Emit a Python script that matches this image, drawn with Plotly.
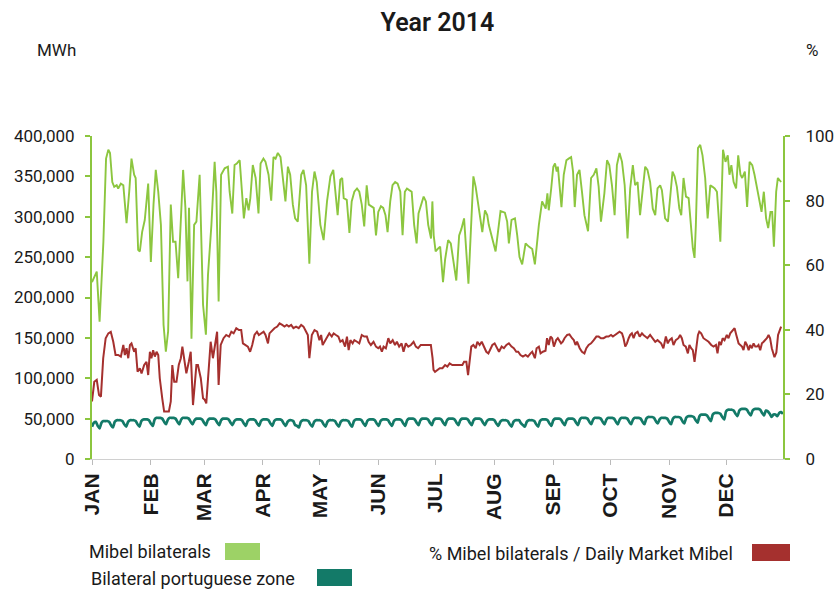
import plotly.graph_objects as go

# ---------------- data ----------------
months = ["JAN", "FEB", "MAR", "APR", "MAY", "JUN", "JUL", "AUG", "SEP", "OCT", "NOV", "DEC"]
month_start_day = [0, 31, 59, 90, 120, 151, 181, 212, 243, 273, 304, 334]

# Mibel bilaterals (MWh) : day of year (0 = 1 Jan 2014) and value
mibel_day = [0, 2.5, 4, 6, 7.4, 8.6, 9.5, 10.7, 11.7, 13, 13.8, 15.2, 16.5, 18.2, 19.6, 20.8, 22.2, 23, 24.3, 25.2,
             26.4, 27.8, 29.6, 31, 32.4, 33.6, 34.9, 36.3, 37.7, 38.9, 40.1, 41.5, 42.7, 44, 45.4, 46.6, 48, 49.2,
             50.3, 51.1, 52.4, 53.8, 55, 56.7, 58.5, 60, 61.1, 62.9, 64.6, 65.5, 66.7, 68, 69.9, 71.6, 72.5, 73.9,
             75.1, 76.3, 77.8, 79, 80, 81.3, 82.5, 83.4, 84.7, 86.2, 87.7, 88.8, 90.3, 91.4, 93, 94.4, 95.6, 96.7,
             97.9, 99.3, 100.5, 101.9, 103.2, 104.4, 105.8, 107, 108.4, 110.2, 111.4, 112.8, 114.5, 115.9, 117.2,
             118.4, 120.3, 122, 123.8, 125.6, 127.1, 128.2, 129.4, 130.8, 131.8, 132.6, 134.2, 135.6, 136.8, 138.2,
             139.6, 140.8, 142.1, 143.4, 144.7, 145.8, 147, 148.4, 149.6, 150.8, 152.2, 153.4, 154.6, 155.7, 157.1,
             158.3, 159.7, 161, 162.4, 163.6, 164.8, 165.9, 167.1, 168.4, 169.7, 171, 172, 173.3, 174.7, 175.9,
             177.1, 178.6, 179.3, 180, 181, 182.5, 183.4, 184.9, 186, 187.6, 189, 191.9, 193.4, 194.6, 196, 198.3,
             200.9, 202.1, 203.3, 205.6, 207, 208.2, 209, 212.6, 215.2, 217.5, 218.7, 219.6, 221, 222.8, 224,
             225.2, 226.6, 228.4, 230.1, 231.9, 233.3, 235.4, 237.1, 238, 239, 239.9, 240.6, 241.9, 243, 243.9,
             244.8, 245.4, 246.3, 247.3, 248.5, 249.9, 251.1, 252.4, 253.4, 254.3, 255.5, 256.8, 258.1, 259.4,
             261.3, 262.9, 264.3, 265.7, 266.9, 268.1, 269.9, 271.3, 272.5, 273.9, 275.3, 276.5, 277.9, 279.2,
             280.6, 282.1, 283.5, 284.9, 286.1, 287.4, 288.7, 290.2, 291.4, 292.6, 294, 295.4, 296.7, 297.9, 299.3,
             300.2, 301.9, 303.4, 304.6, 305.8, 306.9, 308.1, 309.4, 310.4, 311.6, 312.9, 314.3, 315.5, 316.5,
             317.4, 318.1, 319.2, 320.4, 321.6, 323, 324.3, 325.7, 326.9, 328, 329.2, 331, 332.4, 333.7, 334.9,
             335.8, 336.8, 338, 339.3, 340.4, 341.6, 342.5, 343.9, 345.1, 346.4, 347.8, 349, 350.1, 351.3, 352.7,
             353.9, 355.1, 356.2, 357.4, 358.3, 359.2, 360.4, 361.3, 363]
mibel_mwh = [219000, 232000, 170000, 269000, 372000, 383000, 379000, 343000, 337000, 339000, 335000, 341000, 339000,
             292000, 331000, 372000, 352000, 348000, 259000, 257000, 281000, 296000, 341000, 244000, 315000, 358000,
             331000, 290000, 166000, 133000, 158000, 315000, 269000, 269000, 224000, 290000, 358000, 311000, 220000,
             311000, 149000, 290000, 294000, 352000, 191000, 154000, 228000, 290000, 368000, 331000, 195000, 352000,
             360000, 362000, 331000, 304000, 364000, 366000, 370000, 331000, 298000, 323000, 308000, 323000, 364000,
             348000, 304000, 366000, 372000, 368000, 352000, 320000, 374000, 372000, 379000, 374000, 352000, 319000,
             362000, 352000, 315000, 298000, 294000, 352000, 358000, 339000, 242000, 331000, 356000, 343000, 290000,
             271000, 319000, 350000, 358000, 335000, 302000, 346000, 348000, 323000, 321000, 280000, 319000, 331000,
             335000, 331000, 315000, 288000, 339000, 315000, 313000, 311000, 277000, 306000, 313000, 311000, 302000,
             281000, 319000, 339000, 343000, 341000, 331000, 277000, 331000, 335000, 333000, 331000, 290000, 267000,
             304000, 315000, 325000, 319000, 290000, 273000, 319000, 277000, 257000, 261000, 263000, 219000, 247000,
             271000, 267000, 221000, 277000, 285000, 298000, 217000, 350000, 337000, 318000, 281000, 308000, 302000,
             290000, 257000, 307000, 305000, 294000, 267000, 296000, 298000, 277000, 250000, 241000, 267000, 263000,
             260000, 241000, 290000, 319000, 315000, 310000, 329000, 308000, 335000, 362000, 366000, 356000, 362000,
             339000, 312000, 352000, 370000, 372000, 374000, 356000, 312000, 352000, 358000, 331000, 302000, 282000,
             348000, 352000, 360000, 337000, 294000, 329000, 370000, 364000, 339000, 302000, 364000, 379000, 368000,
             339000, 273000, 335000, 364000, 339000, 343000, 302000, 339000, 362000, 358000, 343000, 310000, 302000,
             335000, 339000, 333000, 298000, 294000, 331000, 356000, 350000, 337000, 310000, 302000, 348000, 325000,
             323000, 290000, 261000, 249000, 290000, 385000, 389000, 376000, 348000, 298000, 339000, 337000, 335000,
             331000, 269000, 383000, 368000, 376000, 352000, 364000, 343000, 335000, 376000, 352000, 348000, 356000,
             312000, 368000, 364000, 352000, 339000, 327000, 306000, 331000, 298000, 286000, 306000, 306000, 263000,
             331000, 348000, 343000]

# % Mibel bilaterals / Daily Market Mibel (right axis, %)
share_day = [0, 1.2, 2.5, 3.7, 4.7, 5.9, 7.2, 8.6, 9.9, 11.2, 12.4, 13.8, 15.2, 16.5, 17.3, 18.2, 19.1, 20, 20.8,
             22.2, 23, 24, 25.2, 26.1, 27.5, 28.7, 29.6, 30.5, 31.3, 32.2, 33.1, 34, 34.9, 35.7, 37, 38, 39.2, 40.5,
             41.5, 42.3, 43.3, 44.5, 45.7, 46.8, 47.6, 48.5, 49.7, 51, 52, 53.2, 54.1, 55, 55.8, 57.3, 58.5, 59.4,
             60.2, 61.5, 62.5, 63.7, 65, 65.9, 66.7, 67.8, 69.3, 70.7, 72.2, 73.4, 74.6, 76, 77.4, 78.6, 79.5, 80.7,
             82.1, 83.3, 84.4, 85.6, 86.9, 87.9, 89.1, 90.4, 91.4, 92.7, 93.5, 94.9, 96.1, 97.6, 98.8, 100.2, 101.4,
             102.6, 103.7, 104.9, 106.1, 107.5, 108.9, 110.2, 111.4, 112.8, 113.7, 114.5, 115.8, 117.2, 118.6,
             119.8, 120.7, 121.5, 122.4, 123.8, 125, 126.3, 127.3, 128.5, 129.8, 130.8, 132, 133.3, 134.3, 135.2,
             136.1, 137.3, 138.2, 139.6, 140.8, 142.1, 143.4, 144.8, 145.7, 146.9, 148.3, 149.6, 150.8, 151.7,
             152.7, 153.6, 154.8, 156.1, 157.1, 158.4, 159.6, 160.6, 161.8, 163.1, 164.1, 165.3, 166.6, 168, 169.4,
             170.6, 171.8, 173.2, 174.6, 175.8, 177, 178.5, 179.4, 179.9, 180.7, 182, 183.2, 184.6, 186, 187.2,
             188.4, 189.8, 191.2, 192.5, 193.7, 195.1, 196, 197.2, 198.1, 199, 199.8, 200.9, 202.1, 203, 204.2,
             205.3, 206.5, 207.7, 208.8, 210, 210.9, 212.1, 213.5, 214.4, 215.8, 217, 218.3, 219.6, 221, 222.2,
             223.5, 224.5, 225.7, 227, 228.4, 229.6, 231, 231.9, 233.3, 234.2, 235.4, 236.3, 237.5, 238.9, 239.7,
             240.6, 241.5, 242.4, 243.3, 244.5, 245.4, 246.2, 247.1, 248, 248.9, 250.3, 251.5, 252.9, 253.8, 254.7,
             255.5, 256.9, 258.1, 259.4, 260.4, 261.6, 262.9, 264.3, 265.7, 266.9, 268.1, 269.5, 270.9, 272.1,
             273.4, 274.4, 275.6, 276.9, 277.9, 279.2, 280, 280.9, 281.8, 282.7, 283.5, 284.4, 285.3, 286.2, 287.4,
             288.5, 289.7, 290.5, 291.4, 292.6, 294, 295.4, 296.7, 297.9, 299.8, 301, 302.3, 303.3, 304.2, 305.4,
             306.3, 307.5, 308.9, 309.8, 310.7, 311.6, 312.8, 313.9, 314.7, 315.6, 316.5, 317.4, 318.1, 319.2,
             319.9, 320.9, 322.1, 323.4, 324.8, 326.2, 327.4, 328.7, 329.5, 330.4, 331.3, 332.2, 333.2, 334.4,
             335.3, 336.2, 337.5, 338.5, 339.4, 340.6, 341.5, 342.4, 343.2, 344.1, 345, 345.9, 346.7, 347.6, 348.5,
             349.4, 350.3, 351.1, 352, 352.9, 353.8, 354.6, 355.5, 356.4, 357.2, 358.1, 359.5, 360.5, 361.4, 363]
share_pct = [17.8, 23.9, 24.5, 19.8, 19.3, 31.2, 37.4, 38.9, 39.4, 36.3, 32.2, 32.2, 31.7, 35.3, 32.2, 34.3, 31.2,
             35.3, 35.8, 33.2, 34.3, 27.0, 28.1, 26.5, 29.1, 30.1, 26.0, 33.2, 31.2, 33.7, 31.7, 33.2, 32.2, 25.0,
             18.8, 14.7, 14.7, 14.7, 17.8, 29.1, 23.9, 23.9, 29.1, 31.2, 34.8, 31.2, 26.5, 30.1, 33.2, 16.7, 23.9,
             29.1, 29.1, 25.0, 18.8, 18.3, 17.2, 27.0, 36.3, 31.2, 36.3, 39.4, 22.9, 35.3, 37.4, 38.4, 37.9, 39.4,
             38.9, 40.5, 39.9, 39.9, 35.8, 35.3, 34.8, 33.2, 35.3, 38.4, 39.4, 38.4, 38.9, 39.4, 38.4, 35.8, 38.9,
             39.9, 40.5, 41.0, 42.0, 41.5, 41.0, 41.5, 41.0, 41.5, 40.5, 41.0, 40.5, 41.5, 41.0, 39.4, 38.4, 31.2,
             38.4, 39.9, 39.4, 36.8, 38.4, 35.3, 36.3, 37.4, 38.9, 37.9, 38.9, 38.4, 37.9, 36.3, 36.8, 34.8, 37.9,
             33.7, 36.8, 35.8, 36.8, 36.3, 35.8, 38.4, 37.9, 37.9, 36.3, 35.3, 36.3, 34.8, 34.3, 34.8, 33.2, 34.8,
             34.3, 37.4, 35.8, 36.8, 35.3, 36.3, 34.8, 35.8, 33.2, 35.8, 34.8, 35.3, 36.3, 34.8, 34.3, 35.3, 35.3,
             35.3, 35.3, 35.3, 31.2, 27.6, 27.0, 27.6, 28.1, 28.1, 29.1, 28.6, 29.6, 29.1, 29.1, 29.1, 29.1, 29.1,
             30.1, 30.1, 26.0, 31.2, 34.8, 35.3, 34.3, 36.3, 35.3, 36.3, 34.8, 33.2, 32.7, 34.3, 35.3, 35.8, 34.3,
             33.2, 34.8, 34.3, 35.3, 35.8, 34.8, 34.3, 33.2, 33.2, 32.2, 31.7, 32.2, 31.7, 32.7, 33.2, 31.2, 34.3,
             34.8, 32.7, 33.2, 33.5, 37.4, 35.3, 37.9, 37.4, 34.8, 36.8, 37.4, 36.8, 35.8, 36.3, 37.4, 38.4, 38.6,
             37.4, 36.8, 35.3, 36.3, 34.3, 33.2, 32.7, 34.3, 35.3, 35.8, 36.8, 37.9, 37.9, 37.4, 37.4, 37.9, 37.9,
             38.4, 37.9, 38.4, 38.9, 39.4, 38.9, 37.4, 34.8, 35.8, 37.4, 38.4, 38.9, 37.4, 38.9, 39.4, 37.9, 38.9,
             38.4, 37.9, 37.4, 38.4, 37.4, 36.3, 36.8, 35.8, 34.3, 37.9, 35.8, 36.8, 37.4, 35.3, 36.8, 37.4, 38.4,
             37.4, 35.3, 34.8, 32.7, 35.3, 34.3, 33.7, 30.1, 33.2, 38.4, 39.4, 38.9, 37.4, 36.8, 36.3, 35.3, 34.8,
             35.3, 32.7, 36.3, 35.3, 37.4, 36.8, 38.4, 37.4, 38.9, 39.9, 40.5, 38.4, 35.8, 35.3, 34.8, 33.7, 36.3,
             35.3, 33.7, 35.3, 34.3, 35.8, 34.8, 34.8, 35.3, 33.7, 35.8, 36.3, 36.8, 37.4, 38.4, 37.4, 34.3, 31.5,
             33.0, 38.4, 41.0]

# Bilateral portuguese zone (MWh), one value per day, 1 Jan .. 31 Dec 2014
portugal_first_days = [40000, 45000, 46000, 41000, 38000]  # Wed 1 Jan .. Sun 5 Jan
portugal_weeks = [  # Mon .. Sun
    [45000, 47000, 47000, 47000, 46000, 42000, 39000], [46000, 48000, 48000, 48000, 47000, 43000, 40000],
    [46000, 48000, 48000, 48000, 47000, 43000, 40000], [47000, 49000, 49000, 49000, 48000, 44000, 41000],
    [49000, 51000, 51000, 51000, 50000, 46000, 43000], [49000, 51000, 51000, 51000, 50000, 46000, 43000],
    [49000, 51000, 51000, 51000, 50000, 46000, 43000], [48000, 50000, 50000, 50000, 49000, 45000, 42000],
    [48000, 50000, 50000, 50000, 49000, 45000, 42000], [48000, 50000, 50000, 50000, 49000, 45000, 42000],
    [47000, 49000, 49000, 49000, 48000, 44000, 41000], [47000, 49000, 49000, 49000, 48000, 44000, 41000],
    [47000, 49000, 49000, 49000, 48000, 44000, 41000], [47000, 49000, 49000, 49000, 48000, 44000, 41000],
    [46000, 48000, 48000, 47000, 42000, 41000, 39000], [46000, 48000, 48000, 48000, 47000, 43000, 40000],
    [46000, 48000, 48000, 48000, 47000, 43000, 40000], [46000, 48000, 48000, 48000, 47000, 43000, 40000],
    [46000, 48000, 48000, 48000, 47000, 43000, 40000], [47000, 49000, 49000, 49000, 48000, 44000, 41000],
    [47000, 49000, 49000, 49000, 48000, 44000, 41000], [47000, 49000, 49000, 49000, 48000, 44000, 41000],
    [47000, 49000, 49000, 49000, 48000, 44000, 41000], [48000, 50000, 50000, 50000, 49000, 45000, 42000],
    [48000, 50000, 50000, 50000, 49000, 45000, 42000], [48000, 50000, 50000, 50000, 49000, 45000, 42000],
    [48000, 50000, 50000, 50000, 49000, 45000, 42000], [48000, 50000, 50000, 50000, 49000, 45000, 42000],
    [48000, 50000, 50000, 50000, 49000, 45000, 42000], [47000, 49000, 49000, 49000, 48000, 44000, 41000],
    [46000, 48000, 48000, 48000, 47000, 43000, 40000], [46000, 48000, 48000, 48000, 44000, 42000, 40000],
    [46000, 48000, 48000, 48000, 47000, 43000, 40000], [47000, 49000, 49000, 49000, 48000, 44000, 41000],
    [48000, 50000, 50000, 50000, 49000, 45000, 42000], [48000, 50000, 50000, 50000, 49000, 45000, 42000],
    [49000, 51000, 51000, 51000, 50000, 46000, 43000], [49000, 51000, 51000, 51000, 50000, 46000, 43000],
    [49000, 51000, 51000, 51000, 50000, 46000, 43000], [49000, 51000, 51000, 51000, 50000, 46000, 43000],
    [49000, 51000, 51000, 51000, 50000, 46000, 43000], [50000, 52000, 52000, 52000, 51000, 47000, 44000],
    [49000, 51000, 51000, 51000, 50000, 46000, 43000], [50000, 52000, 52000, 52000, 51000, 47000, 44000],
    [51000, 53000, 53000, 53000, 52000, 48000, 45000], [53000, 55000, 55000, 55000, 54000, 50000, 47000],
    [55000, 57000, 57000, 57000, 56000, 52000, 49000], [59000, 61000, 61000, 61000, 60000, 56000, 53000],
    [60000, 62000, 62000, 62000, 61000, 57000, 54000], [60000, 62000, 62000, 62000, 61000, 57000, 54000],
    [60000, 59000, 56000, 52000, 55000, 55000, 53000],
]
portugal_last_days = [57000, 58000, 56000]  # Mon 29 .. Wed 31 Dec

# ---------------- styling ----------------
GREEN = "#8cc63f"
GREEN_LEG = "#9dd266"
RED = "#a5302e"
TEAL = "#137a68"
TXT = "#1a1a1a"
FONT = "Roboto, Open Sans, sans-serif"

portugal_mwh = portugal_first_days + [v for wk in portugal_weeks for v in wk] + portugal_last_days
portugal_day = list(range(len(portugal_mwh)))

fig = go.Figure()
fig.add_trace(go.Scatter(x=mibel_day, y=mibel_mwh, mode="lines", name="Mibel bilaterals",
                         line=dict(color=GREEN, width=1.9), showlegend=False))
fig.add_trace(go.Scatter(x=portugal_day, y=portugal_mwh, mode="lines", name="Bilateral portuguese zone",
                         line=dict(color=TEAL, width=2.7, shape="spline", smoothing=0.6), showlegend=False))
fig.add_trace(go.Scatter(x=share_day, y=share_pct, mode="lines", yaxis="y2",
                         name="% Mibel bilaterals / Daily Market Mibel",
                         line=dict(color=RED, width=2.0), showlegend=False))

FIG_W, FIG_H = 835, 589
# plot area in page pixels: x 92..783, y 136..459
L, R, T, B = 92, 783, 136, 459
W, H = R - L, B - T


def px(xp):
    return (xp - L) / W


def py(yp):
    return (B - yp) / H


def label(text, x, y, xanchor="left", size=18):
    return dict(text=text, x=px(x), y=py(y), xref="paper", yref="paper", showarrow=False,
                xanchor=xanchor, yanchor="middle", font=dict(family=FONT, size=size, color=TXT))


annotations = [
    label("MWh", 56, 50, "center", 17),
    label("%", 812, 50, "center", 17),
    label("Mibel bilaterals", 87, 551),
    label("Bilateral portuguese zone", 89, 578),
    label("% Mibel bilaterals / Daily Market Mibel", 427, 553),
]
shapes = [
    dict(type="rect", xref="paper", yref="paper", x0=px(225), x1=px(260), y0=py(560), y1=py(543),
         fillcolor=GREEN_LEG, line=dict(width=0)),
    dict(type="rect", xref="paper", yref="paper", x0=px(317), x1=px(352), y0=py(586), y1=py(569),
         fillcolor=TEAL, line=dict(width=0)),
    dict(type="rect", xref="paper", yref="paper", x0=px(752), x1=px(790), y0=py(561), y1=py(544),
         fillcolor=RED, line=dict(width=0)),
]

fig.update_layout(
    width=FIG_W, height=FIG_H,
    margin=dict(l=L, r=FIG_W - R, t=T, b=FIG_H - B),
    paper_bgcolor="white", plot_bgcolor="white",
    title=dict(text="Year 2014", x=0.5, xref="paper", xanchor="center", y=1 - 22 / FIG_H,
               yref="container", yanchor="middle",
               font=dict(family=FONT, size=25, color=TXT, weight=600)),
    xaxis=dict(range=[0, 364], tickvals=month_start_day, ticktext=months, tickangle=-90,
               ticks="outside", ticklen=5, tickcolor="#bbbbbb", showline=True, linecolor="#d0d0d0",
               linewidth=1, showgrid=False, zeroline=False, automargin=False,
               tickfont=dict(family="Liberation Sans, Arial, sans-serif", size=21, color=TXT, weight="bold")),
    yaxis=dict(range=[0, 400000], dtick=50000, tickformat=",", ticks="outside", ticklen=5,
               tickcolor=GREEN, tickwidth=2, showline=True, linecolor=GREEN, linewidth=2, showgrid=False,
               zeroline=False, automargin=False, ticklabelstandoff=7,
               tickfont=dict(family=FONT, size=17, color=TXT)),
    yaxis2=dict(range=[0, 100], dtick=20, overlaying="y", side="right", ticks="outside", ticklen=5,
                tickcolor=GREEN, tickwidth=2, showline=True, linecolor=GREEN, linewidth=2, showgrid=False,
                zeroline=False, automargin=False, ticklabelstandoff=12,
                tickfont=dict(family=FONT, size=17, color=TXT)),
    annotations=annotations,
    shapes=shapes,
)

# place the figure flush with the page corner (no default 8 px body margin)
fig.write_html("out.html", config={"displayModeBar": False},
               post_script="document.body.style.margin='0';document.body.style.overflow='hidden';")
